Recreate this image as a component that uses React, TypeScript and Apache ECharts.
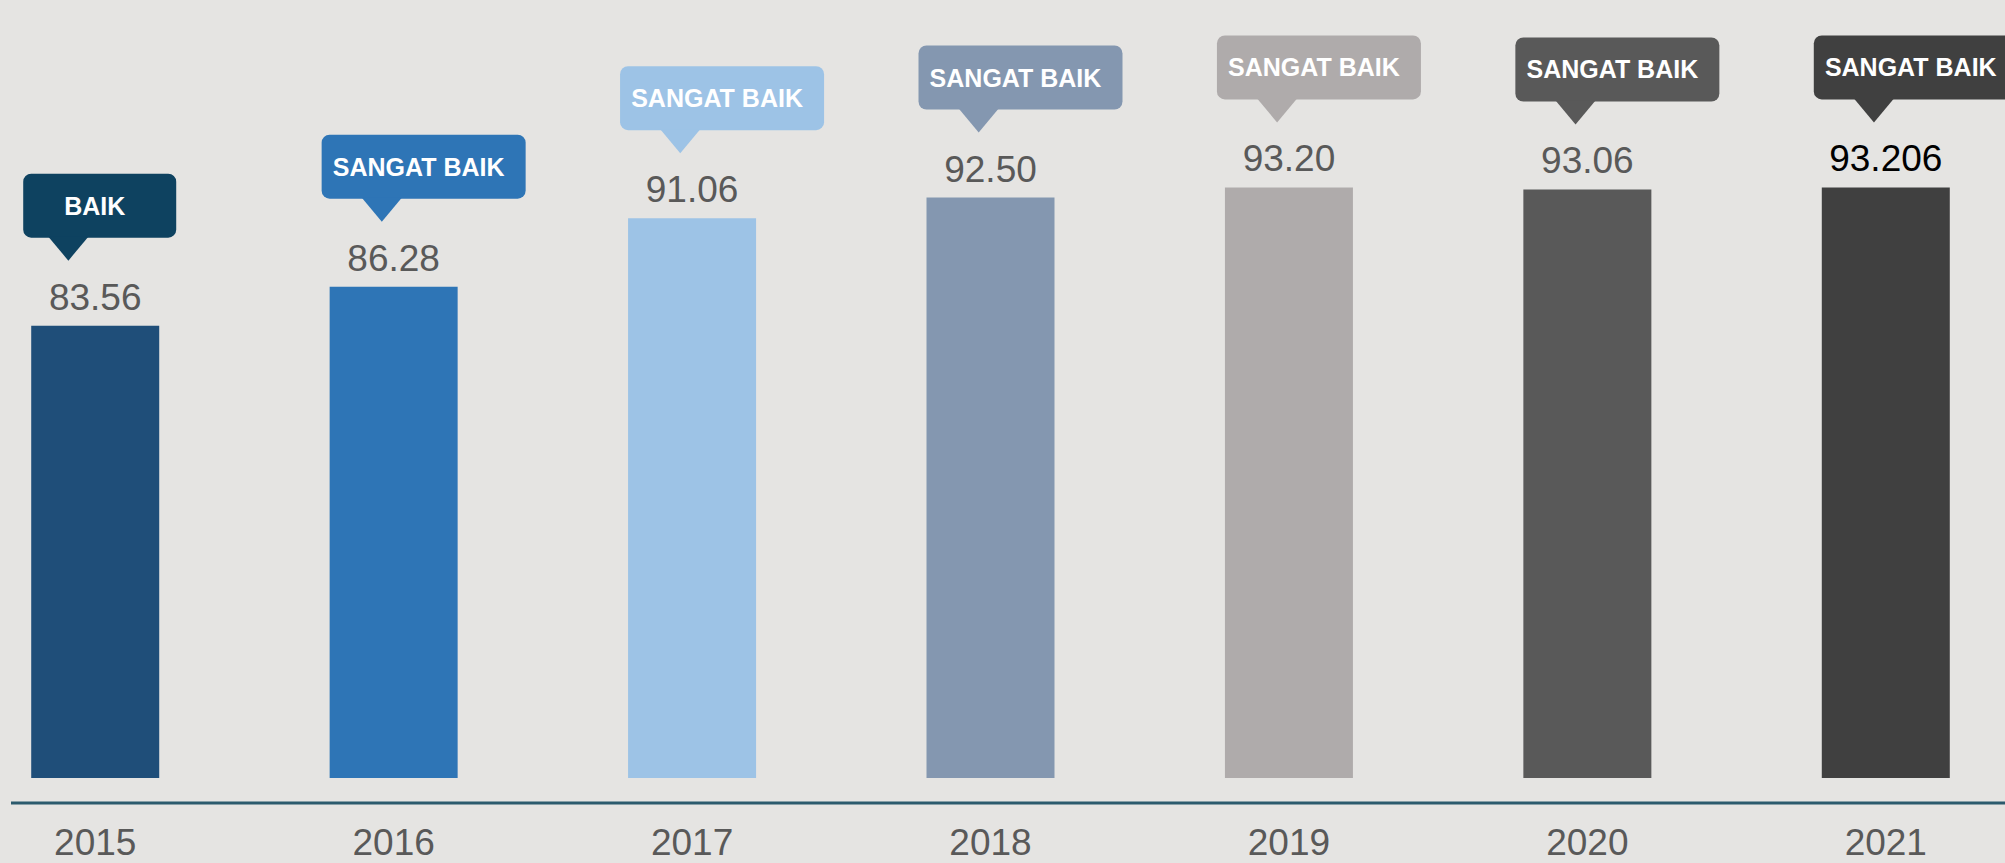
import React, { useEffect, useRef } from 'react';
import * as echarts from 'echarts';

const years = ['2015', '2016', '2017', '2018', '2019', '2020', '2021'];
const scores = [83.56, 86.28, 91.06, 92.5, 93.2, 93.06, 93.206];
const valueLabels = ['83.56', '86.28', '91.06', '92.50', '93.20', '93.06', '93.206'];
const ratings = ['BAIK', 'SANGAT BAIK', 'SANGAT BAIK', 'SANGAT BAIK', 'SANGAT BAIK', 'SANGAT BAIK', 'SANGAT BAIK'];

const barColors = ['#1F4E79', '#2E75B6', '#9DC3E6', '#8497B0', '#AFABAB', '#595959', '#404040'];
const bubbleColors = ['#0E4260', '#2E75B6', '#9DC3E6', '#8497B0', '#AFABAB', '#595959', '#404040'];
const valueLabelColors = ['#595959', '#595959', '#595959', '#595959', '#595959', '#595959', '#000000'];

const FONT = '"Liberation Sans", Arial, sans-serif';

export default function App() {
  const ref = useRef<HTMLDivElement>(null);

  useEffect(() => {
    if (!ref.current) return;
    const chart = echarts.init(ref.current, undefined, { renderer: 'svg' });

    const option: any = {
      animation: false,
      backgroundColor: '#E5E4E2',
      grid: {
        left: -54,
        right: -30,
        top: 90,
        bottom: 85,
        containLabel: false,
        outerBoundsMode: 'none',
      },
      xAxis: {
        type: 'category',
        data: years,
        boundaryGap: true,
        axisLine: { show: false },
        axisTick: { show: false },
        splitLine: { show: false },
        axisLabel: {
          fontSize: 37,
          color: '#595959',
          margin: 46,
          fontFamily: FONT,
        },
      },
      yAxis: {
        type: 'value',
        min: 52,
        max: 100,
        show: false,
        splitLine: { show: false },
      },
      graphic: [
        {
          type: 'line',
          shape: { x1: 11, y1: 803, x2: 2005, y2: 803 },
          style: { stroke: '#2B5A6D', lineWidth: 3 },
          silent: true,
        },
      ],
      series: [
        {
          type: 'bar',
          barWidth: 128,
          data: scores.map((v, i) => ({
            value: v,
            itemStyle: { color: barColors[i] },
            label: { color: valueLabelColors[i] },
          })),
          label: {
            show: true,
            position: 'top',
            distance: 10,
            fontSize: 37,
            fontFamily: FONT,
            formatter: (p: any) => valueLabels[p.dataIndex],
          },
        },
        {
          type: 'custom',
          coordinateSystem: 'cartesian2d',
          clip: false,
          data: scores.map((v, i) => [i, v]),
          z: 5,
          renderItem: (params: any, api: any) => {
            const i = params.dataIndex;
            const pt = api.coord([api.value(0), api.value(1)]);
            const label = ratings[i];
            const w = label.length > 5 ? 204 : 153;
            const h = 64;
            const left = pt[0] - 72;
            const bottom = pt[1] - 88;
            const top = bottom - h;
            const tipX = left + w * 0.295;
            const color = bubbleColors[i];
            return {
              type: 'group',
              children: [
                {
                  type: 'rect',
                  shape: { x: left, y: top, width: w, height: h, r: 8 },
                  style: { fill: color },
                },
                {
                  type: 'polygon',
                  shape: {
                    points: [
                      [tipX - 20, bottom - 1],
                      [tipX + 20, bottom - 1],
                      [tipX, bottom + 23],
                    ],
                  },
                  style: { fill: color },
                },
                {
                  type: 'text',
                  style: {
                    text: label,
                    x: left + w / 2 - 5,
                    y: top + h / 2,
                    align: 'center',
                    verticalAlign: 'middle',
                    fill: '#FFFFFF',
                    fontSize: 25,
                    fontWeight: 'bold',
                    fontFamily: FONT,
                  },
                },
              ],
            };
          },
        },
      ],
    };

    chart.setOption(option);
    return () => chart.dispose();
  }, []);

  return (
    <div
      ref={ref}
      style={{ position: 'fixed', left: 0, top: 0, width: 2005, height: 863, background: '#E5E4E2' }}
    />
  );
}
